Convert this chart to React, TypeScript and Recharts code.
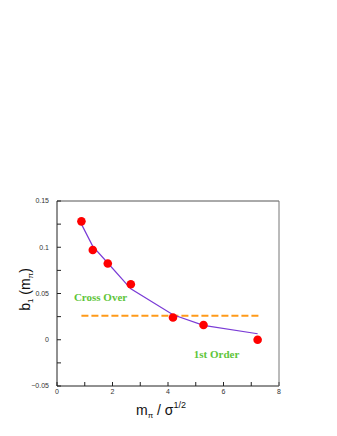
import {
  ComposedChart,
  Line,
  Scatter,
  XAxis,
  YAxis,
  ReferenceDot,
} from 'recharts';

// measured points
const massRatio = [0.88, 1.29, 1.83, 2.66, 4.18, 5.28, 7.23];
const b1Values = [0.128, 0.097, 0.0825, 0.06, 0.024, 0.016, 0.0];
// fitted curve through the same x positions
const fitValues = [0.125, 0.101, 0.083, 0.055, 0.027, 0.0155, 0.0065];
// critical level (dashed)
const criticalX = [0.88, 7.28];
const criticalY = [0.026, 0.026];

const xTicks = [0, 1, 2, 3, 4, 5, 6, 7, 8];
const xLabels = [0, 2, 4, 6, 8];
const yTicks = [-0.05, -0.025, 0, 0.025, 0.05, 0.075, 0.1, 0.125, 0.15];
const yLabels = [-0.05, 0, 0.05, 0.1, 0.15];

const points = massRatio.map((x, i) => ({ x, y: b1Values[i] }));
const fit = massRatio.map((x, i) => ({ x, y: fitValues[i] }));
const critical = criticalX.map((x, i) => ({ x, y: criticalY[i] }));

const tickFont = { fontSize: 7, fill: '#333', fontFamily: 'Liberation Sans, Arial, sans-serif' };
const green = '#5ec53a';

const fmtY = (v: number) => {
  if (!yLabels.some((l) => Math.abs(l - v) < 1e-9)) return '';
  if (Math.abs(v) < 1e-9) return '0';
  return String(v).replace('-', '\u2212');
};
const fmtX = (v: number) => (xLabels.includes(v) ? String(v) : '');

function YTitle({ viewBox }: any) {
  const cx = 30;
  const cy = viewBox.y + viewBox.height / 2 - 4;
  return (
    <text
      x={cx}
      y={cy}
      transform={`rotate(-90 ${cx} ${cy})`}
      textAnchor="middle"
      fontSize={14}
      fill="#111"
      fontFamily="Liberation Sans, Arial, sans-serif"
    >
      b<tspan dy={3} fontSize={8}>1</tspan>
      <tspan dy={-3}> (m</tspan>
      <tspan dy={3} fontSize={8}>π</tspan>
      <tspan dy={-3}>)</tspan>
    </text>
  );
}

function XTitle({ viewBox }: any) {
  const cx = viewBox.x + viewBox.width / 2 - 7;
  return (
    <text
      x={cx}
      y={415}
      textAnchor="middle"
      fontSize={14}
      fill="#111"
      fontFamily="Liberation Sans, Arial, sans-serif"
    >
      m<tspan dy={3} fontSize={8}>π</tspan>
      <tspan dy={-3}> / σ</tspan>
      <tspan dy={-7} fontSize={9}>1/2</tspan>
    </text>
  );
}

export default function App() {
  return (
    <div style={{ position: 'absolute', left: 0, top: 0, background: '#fff' }}>
      <ComposedChart
        width={337}
        height={436}
        margin={{ top: 200, right: 57, bottom: 0, left: 0 }}
      >
        <XAxis
          xAxisId="b"
          type="number"
          dataKey="x"
          domain={[0, 8]}
          ticks={xTicks}
          tickFormatter={fmtX}
          interval={0}
          height={50}
          tickSize={-4}
          tickMargin={7}
          stroke="#222"
          tick={tickFont}
          label={<XTitle />}
        />
        <XAxis
          xAxisId="t"
          orientation="top"
          type="number"
          dataKey="x"
          domain={[0, 8]}
          ticks={xTicks}
          tickFormatter={() => ''}
          interval={0}
          height={1}
          tickSize={-4}
          stroke="#555"
        />
        <YAxis
          yAxisId="l"
          type="number"
          dataKey="y"
          domain={[-0.05, 0.15]}
          ticks={yTicks}
          tickFormatter={fmtY}
          interval={0}
          width={57}
          tickSize={-4}
          tickMargin={12}
          stroke="#222"
          tick={tickFont}
          label={<YTitle />}
        />
        <YAxis
          yAxisId="r"
          orientation="right"
          type="number"
          dataKey="y"
          domain={[-0.05, 0.15]}
          ticks={yTicks}
          tickFormatter={() => ''}
          interval={0}
          width={1}
          tickSize={-4}
          stroke="#777"
        />
        <Line
          xAxisId="b"
          yAxisId="l"
          data={critical}
          dataKey="y"
          stroke="#ff9a1a"
          strokeWidth={2}
          strokeDasharray="7 3"
          dot={false}
          isAnimationActive={false}
        />
        <Line
          xAxisId="b"
          yAxisId="l"
          data={fit}
          dataKey="y"
          type="linear"
          stroke="#7a3bd6"
          strokeWidth={1.2}
          dot={false}
          isAnimationActive={false}
        />
        <Scatter
          xAxisId="b"
          yAxisId="l"
          data={points}
          fill="#ff0000"
          shape={(p: any) => <circle cx={p.cx} cy={p.cy} r={4.3} fill="#ff0000" />}
          isAnimationActive={false}
        />
        <ReferenceDot
          xAxisId="b"
          yAxisId="l"
          x={1.57}
          y={0.0465}
          r={0}
          stroke="none"
          label={{
            value: 'Cross Over',
            position: 'center',
            fill: green,
            fontSize: 11,
            fontWeight: 'bold',
            fontFamily: 'Liberation Serif, Times New Roman, serif',
          }}
        />
        <ReferenceDot
          xAxisId="b"
          yAxisId="l"
          x={5.75}
          y={-0.0159}
          r={0}
          stroke="none"
          label={{
            value: '1st Order',
            position: 'center',
            fill: green,
            fontSize: 11,
            fontWeight: 'bold',
            fontFamily: 'Liberation Serif, Times New Roman, serif',
          }}
        />
      </ComposedChart>
    </div>
  );
}
